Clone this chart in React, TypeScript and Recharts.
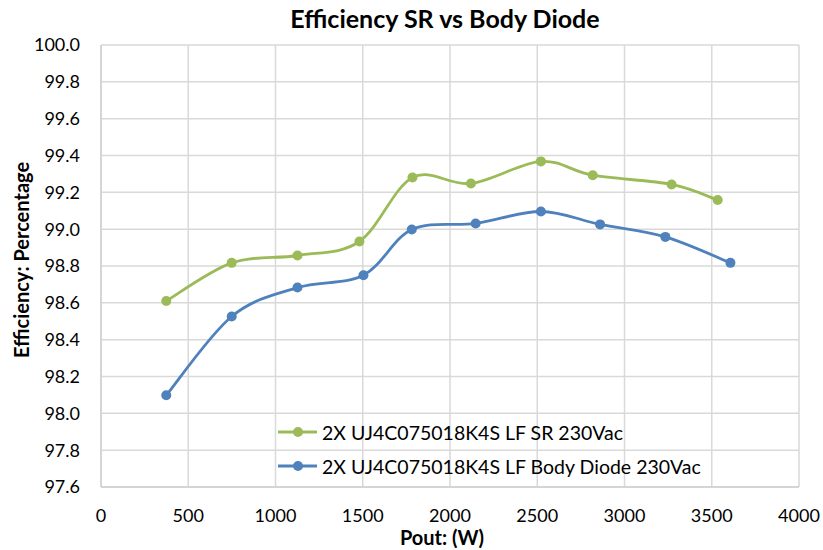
import React from 'react'
import {
  ComposedChart,
  Line,
  XAxis,
  YAxis,
  CartesianGrid,
} from 'recharts'

// power (W) and efficiency (%)
const srPower = [374, 749, 1126, 1481, 1785, 2120, 2521, 2818, 3270, 3534]
const srEff = [98.61, 98.817, 98.857, 98.933, 99.281, 99.248, 99.368, 99.293, 99.243, 99.158]
const bdPower = [374, 749, 1126, 1504, 1781, 2147, 2521, 2860, 3234, 3607]
const bdEff = [98.098, 98.526, 98.683, 98.75, 98.998, 99.031, 99.096, 99.026, 98.958, 98.817]

const xTicks = [0, 500, 1000, 1500, 2000, 2500, 3000, 3500, 4000]
const yTicks = [97.6, 97.8, 98.0, 98.2, 98.4, 98.6, 98.8, 99.0, 99.2, 99.4, 99.6, 99.8, 100.0]

const srName = '2X UJ4C075018K4S LF SR 230Vac'
const bdName = '2X UJ4C075018K4S LF Body Diode 230Vac'

const GREEN = '#9BBB59'
const BLUE = '#4F81BD'
const FONT = 'Lato, "Open Sans", sans-serif'

const srData = srPower.map((p, i) => ({ p, eff: srEff[i] }))
const bdData = bdPower.map((p, i) => ({ p, eff: bdEff[i] }))

// Excel style smoothed line (catmull-rom like bezier)
function excelCurve(context: any) {
  let pts: number[][] = []
  return {
    areaStart() {},
    areaEnd() {},
    lineStart() {
      pts = []
    },
    point(x: number, y: number) {
      pts.push([+x, +y])
    },
    lineEnd() {
      if (!pts.length) return
      context.moveTo(pts[0][0], pts[0][1])
      for (let i = 0; i < pts.length - 1; i++) {
        const p0 = pts[i - 1] || pts[i]
        const p1 = pts[i]
        const p2 = pts[i + 1]
        const p3 = pts[i + 2] || p2
        const c1x = p1[0] + (p2[0] - p0[0]) / 6
        const c1y = p1[1] + (p2[1] - p0[1]) / 6
        const c2x = p2[0] - (p3[0] - p1[0]) / 6
        const c2y = p2[1] - (p3[1] - p1[1]) / 6
        context.bezierCurveTo(c1x, c1y, c2x, c2y, p2[0], p2[1])
      }
    },
  }
}

function LegendBox() {
  const rows = [
    { name: srName, color: GREEN },
    { name: bdName, color: BLUE },
  ]
  return (
    <div style={{ position: 'absolute', left: 277, top: 415 }}>
      {rows.map((r) => (
        <div key={r.name} style={{ display: 'flex', alignItems: 'center', height: 34 }}>
          <svg width={41} height={12} style={{ marginRight: 4 }}>
            <line x1={1} y1={6} x2={40} y2={6} stroke={r.color} strokeWidth={2.8} />
            <circle cx={21} cy={6} r={5} fill={r.color} />
          </svg>
          <span style={{ fontFamily: FONT, fontSize: 19.5, color: '#000', whiteSpace: 'nowrap' }}>
            {r.name}
          </span>
        </div>
      ))}
    </div>
  )
}

export default function App() {
  const tick = { fill: '#000', fontSize: 18, fontFamily: FONT }
  return (
    <div style={{ position: 'absolute', left: 0, top: 0, width: 823, height: 550, background: '#fff' }}>
      <ComposedChart width={823} height={550} margin={{ top: 45, right: 24, bottom: 0, left: 0 }}>
        <CartesianGrid stroke="#D9D9D9" strokeWidth={1.5} />
        <XAxis
          type="number"
          dataKey="p"
          domain={[0, 4000]}
          ticks={xTicks}
          tick={tick}
          tickSize={0}
          tickMargin={22}
          height={63}
          stroke="#D0D0D0"
          strokeWidth={1.5}
          allowDataOverflow
        />
        <YAxis
          type="number"
          domain={[97.6, 100]}
          ticks={yTicks}
          tickFormatter={(v: number) => v.toFixed(1)}
          tick={tick}
          tickSize={0}
          tickMargin={21}
          width={101}
          stroke="#D0D0D0"
          strokeWidth={1.5}
          allowDataOverflow
        />
        <Line
          data={srData}
          dataKey="eff"
          name={srName}
          type={excelCurve as any}
          stroke={GREEN}
          strokeWidth={2.8}
          dot={{ r: 5, fill: GREEN, stroke: GREEN, strokeWidth: 0 }}
          isAnimationActive={false}
        />
        <Line
          data={bdData}
          dataKey="eff"
          name={bdName}
          type={excelCurve as any}
          stroke={BLUE}
          strokeWidth={2.8}
          dot={{ r: 5, fill: BLUE, stroke: BLUE, strokeWidth: 0 }}
          isAnimationActive={false}
        />
      </ComposedChart>
      <LegendBox />
      <div
        style={{
          position: 'absolute',
          left: 0,
          width: 890,
          top: 3,
          textAlign: 'center',
          fontFamily: FONT,
          fontWeight: 700,
          fontSize: 25,
        }}
      >
        Efficiency SR vs Body Diode
      </div>
      <div
        style={{
          position: 'absolute',
          left: 21,
          top: 260,
          transform: 'translate(-50%, -50%) rotate(-90deg)',
          fontFamily: FONT,
          fontWeight: 700,
          fontSize: 20,
          whiteSpace: 'nowrap',
        }}
      >
        Efficiency: Percentage
      </div>
      <div
        style={{
          position: 'absolute',
          left: 0,
          width: 884,
          top: 525,
          textAlign: 'center',
          fontFamily: FONT,
          fontWeight: 700,
          fontSize: 20,
        }}
      >
        Pout: (W)
      </div>
    </div>
  )
}
